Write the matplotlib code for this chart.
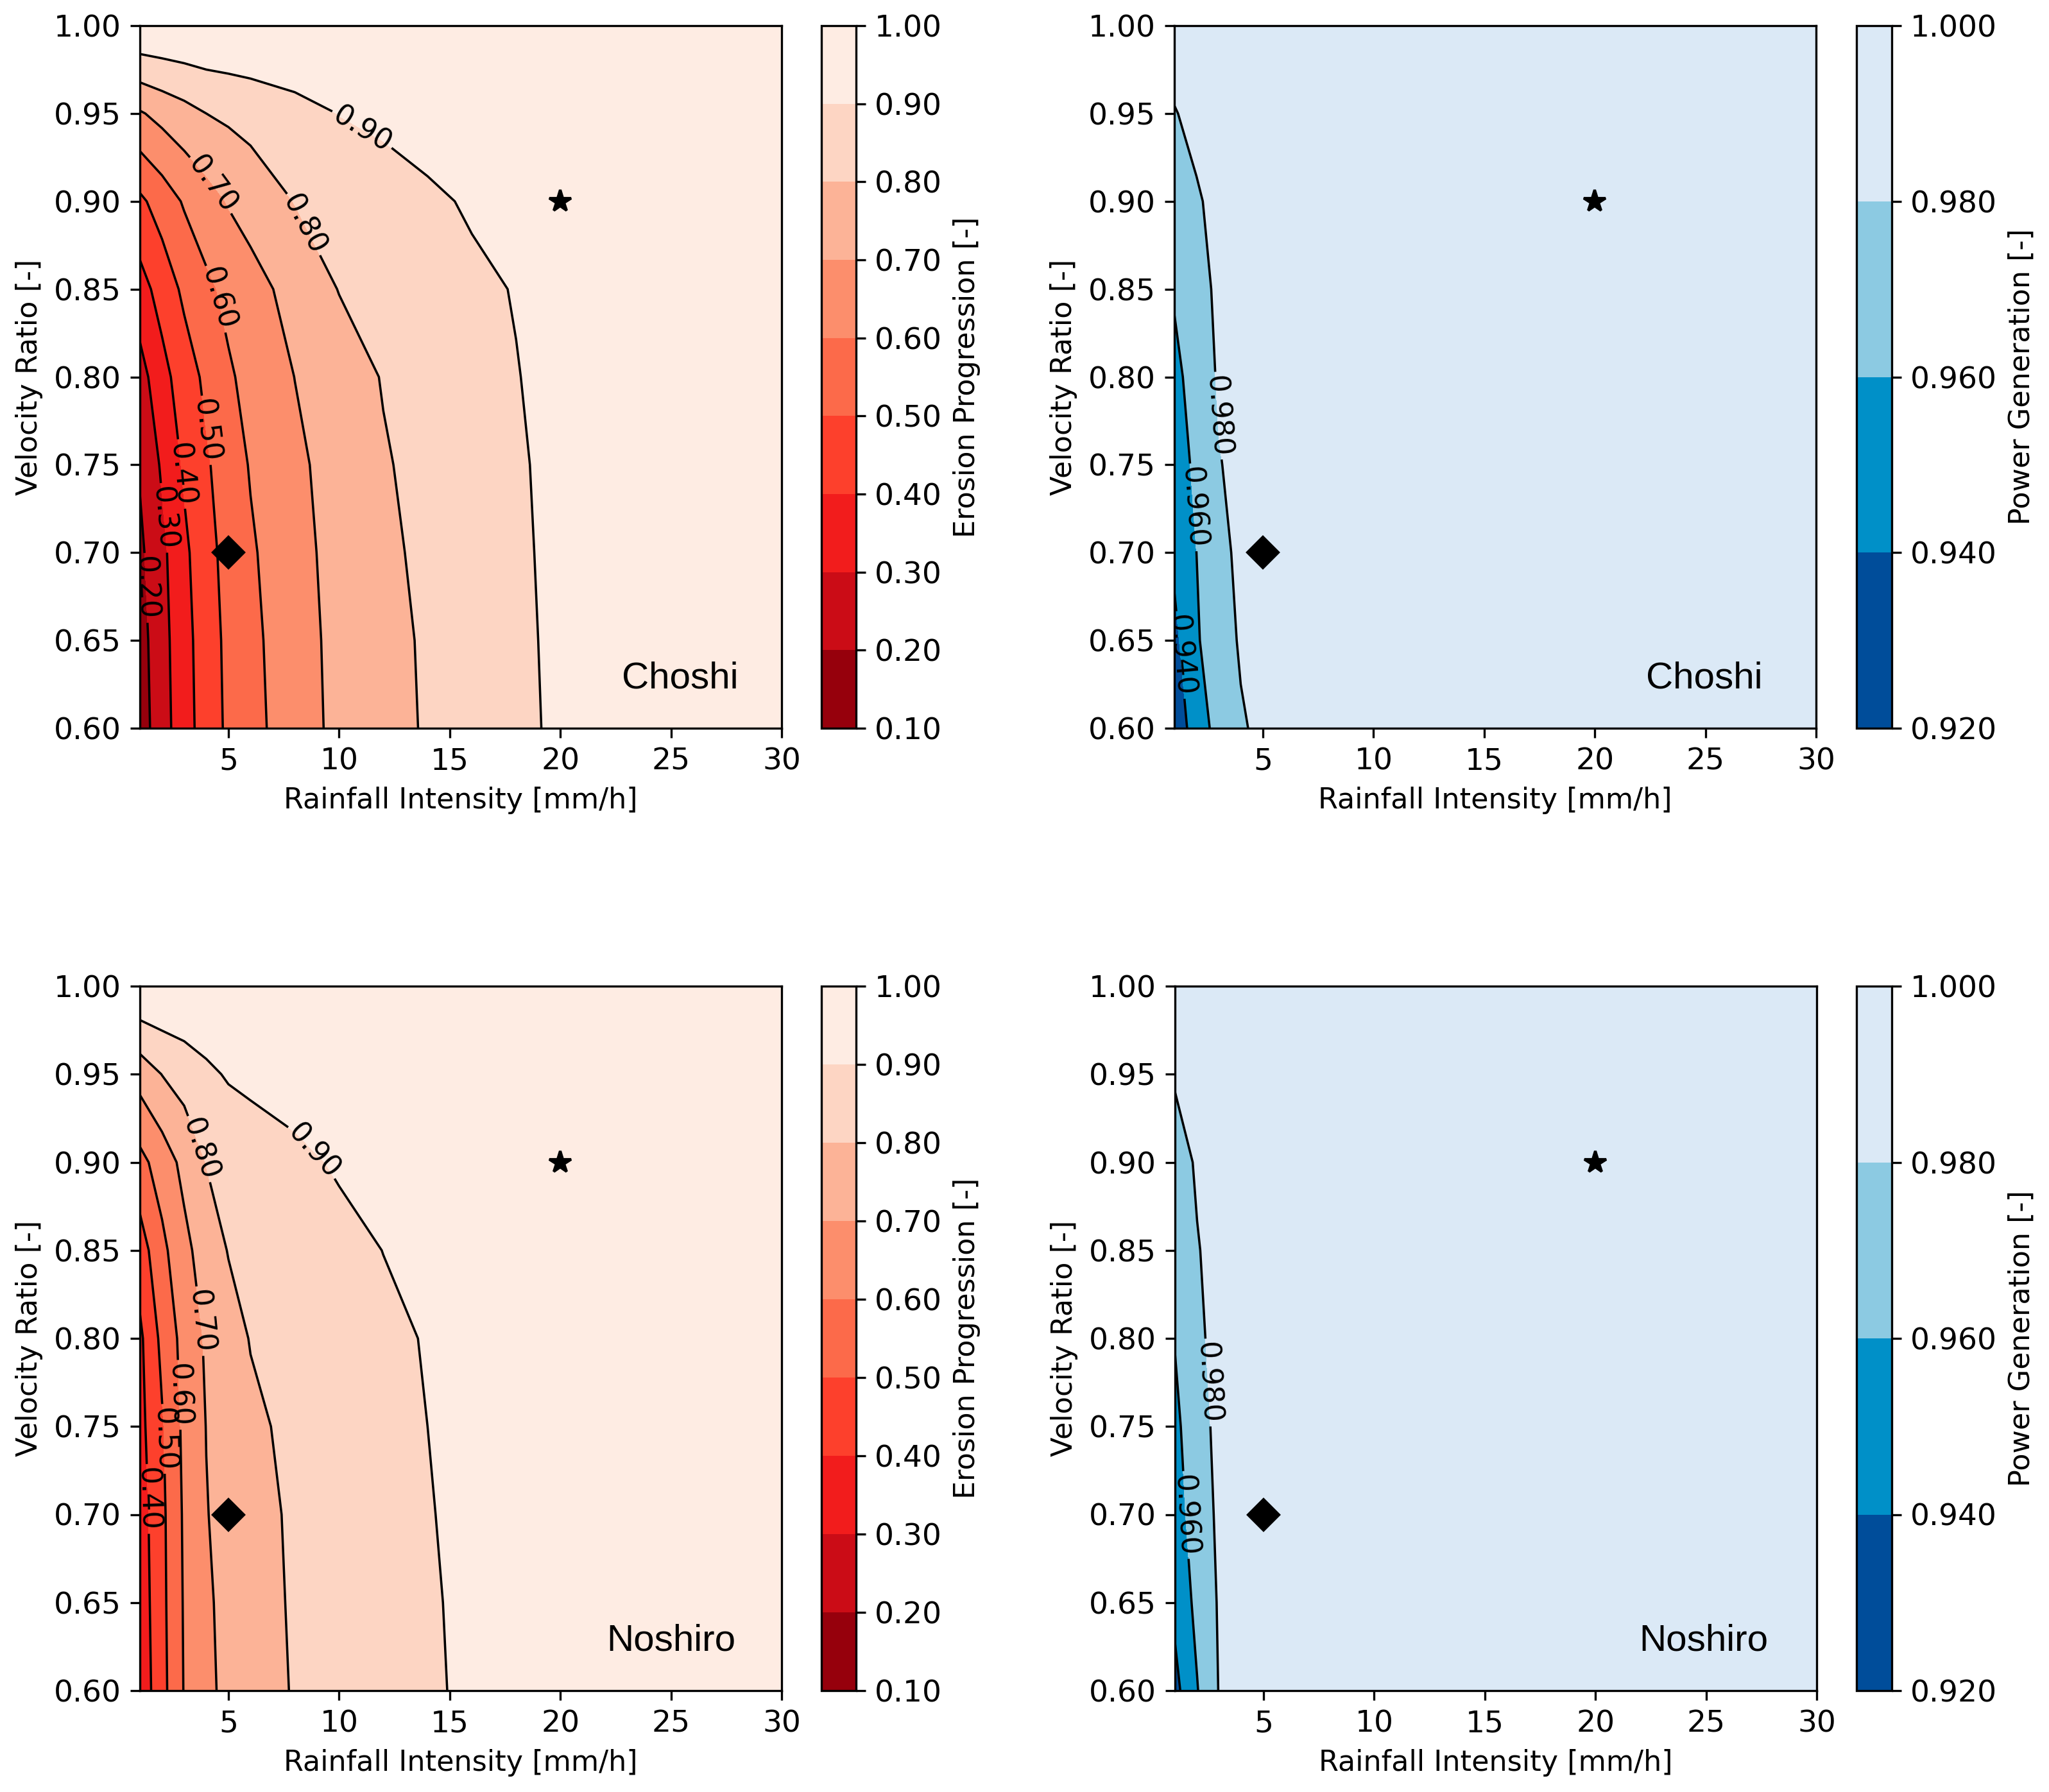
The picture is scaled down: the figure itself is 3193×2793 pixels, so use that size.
import numpy as np
import matplotlib
matplotlib.use("Agg")
import matplotlib.pyplot as plt

plt.rcParams['font.family'] = ['DejaVu Sans']
plt.rcParams['font.size'] = 10.7
plt.rcParams['xtick.labelsize'] = 11.3
plt.rcParams['ytick.labelsize'] = 11.3

# grid
rainfall = [1, 2, 3, 4, 5, 6, 8, 10, 12, 14, 16, 18, 20, 30]
velocity_ratio = [0.60, 0.65, 0.70, 0.75, 0.80, 0.85, 0.90, 0.95, 1.00]

# erosion progression, one row per velocity ratio
erosion_choshi = [
    [0.15, 0.259, 0.358, 0.447, 0.518, 0.567, 0.657, 0.723, 0.767, 0.809, 0.845, 0.880, 0.915, 0.99],
    [0.16, 0.266, 0.364, 0.453, 0.523, 0.574, 0.663, 0.725, 0.771, 0.812, 0.847, 0.882, 0.918, 0.99],
    [0.18, 0.277, 0.378, 0.467, 0.533, 0.587, 0.670, 0.731, 0.781, 0.820, 0.853, 0.886, 0.920, 0.99],
    [0.21, 0.313, 0.415, 0.488, 0.550, 0.607, 0.680, 0.739, 0.792, 0.827, 0.859, 0.890, 0.922, 0.99],
    [0.26, 0.366, 0.451, 0.521, 0.587, 0.629, 0.701, 0.755, 0.805, 0.835, 0.866, 0.897, 0.925, 0.99],
    [0.36, 0.440, 0.520, 0.579, 0.625, 0.662, 0.736, 0.803, 0.829, 0.856, 0.883, 0.904, 0.930, 0.99],
    [0.48, 0.545, 0.610, 0.660, 0.707, 0.741, 0.803, 0.830, 0.857, 0.884, 0.910, 0.930, 0.950, 0.99],
    [0.69, 0.731, 0.766, 0.800, 0.817, 0.834, 0.868, 0.902, 0.920, 0.940, 0.950, 0.960, 0.970, 0.99],
    [1.00, 1.00, 1.00, 1.00, 1.00, 1.00, 1.00, 1.00, 1.00, 1.00, 1.00, 1.00, 1.00, 1.00],
]
erosion_noshiro = [
    [0.33, 0.468, 0.605, 0.680, 0.723, 0.754, 0.807, 0.834, 0.861, 0.892, 0.910, 0.930, 0.945, 0.99],
    [0.34, 0.474, 0.609, 0.686, 0.727, 0.760, 0.811, 0.838, 0.865, 0.892, 0.915, 0.935, 0.950, 0.99],
    [0.35, 0.478, 0.614, 0.696, 0.733, 0.767, 0.814, 0.841, 0.869, 0.896, 0.918, 0.937, 0.952, 0.99],
    [0.37, 0.490, 0.623, 0.702, 0.742, 0.782, 0.821, 0.847, 0.874, 0.900, 0.920, 0.940, 0.955, 0.99],
    [0.38, 0.525, 0.635, 0.713, 0.764, 0.804, 0.830, 0.856, 0.882, 0.905, 0.925, 0.940, 0.955, 0.99],
    [0.45, 0.575, 0.672, 0.749, 0.804, 0.818, 0.846, 0.873, 0.901, 0.920, 0.935, 0.950, 0.960, 0.99],
    [0.57, 0.646, 0.728, 0.803, 0.822, 0.841, 0.879, 0.910, 0.930, 0.945, 0.955, 0.965, 0.970, 0.99],
    [0.74, 0.802, 0.840, 0.879, 0.910, 0.925, 0.940, 0.955, 0.965, 0.970, 0.975, 0.980, 0.985, 0.99],
    [1.00, 1.00, 1.00, 1.00, 1.00, 1.00, 1.00, 1.00, 1.00, 1.00, 1.00, 1.00, 1.00, 1.00],
]

# power generation
power_choshi = [
    [0.925, 0.951, 0.966, 0.978, 0.984, 0.988, 0.991, 0.993, 0.994, 0.995, 0.996, 0.997, 0.998, 0.999],
    [0.935, 0.958, 0.971, 0.982, 0.986, 0.989, 0.992, 0.993, 0.994, 0.995, 0.996, 0.997, 0.998, 0.999],
    [0.944, 0.960, 0.976, 0.983, 0.987, 0.990, 0.992, 0.994, 0.995, 0.996, 0.997, 0.997, 0.998, 0.999],
    [0.950, 0.964, 0.979, 0.985, 0.988, 0.990, 0.993, 0.994, 0.995, 0.996, 0.997, 0.998, 0.998, 0.999],
    [0.955, 0.968, 0.982, 0.986, 0.990, 0.991, 0.993, 0.995, 0.996, 0.996, 0.997, 0.998, 0.998, 0.999],
    [0.962, 0.974, 0.983, 0.987, 0.990, 0.992, 0.994, 0.995, 0.996, 0.997, 0.997, 0.998, 0.999, 0.999],
    [0.970, 0.978, 0.985, 0.989, 0.991, 0.993, 0.994, 0.995, 0.996, 0.997, 0.998, 0.998, 0.999, 0.999],
    [0.979, 0.985, 0.989, 0.992, 0.993, 0.994, 0.995, 0.996, 0.997, 0.998, 0.998, 0.999, 0.999, 1.000],
    [0.990, 0.992, 0.994, 0.995, 0.996, 0.996, 0.997, 0.998, 0.998, 0.999, 0.999, 0.999, 1.000, 1.000],
]
power_noshiro = [
    [0.934, 0.959, 0.981, 0.986, 0.989, 0.991, 0.993, 0.994, 0.995, 0.996, 0.997, 0.998, 0.998, 0.999],
    [0.945, 0.965, 0.982, 0.987, 0.990, 0.991, 0.993, 0.994, 0.995, 0.996, 0.997, 0.998, 0.998, 0.999],
    [0.950, 0.971, 0.983, 0.988, 0.990, 0.992, 0.993, 0.995, 0.996, 0.996, 0.997, 0.998, 0.998, 0.999],
    [0.955, 0.974, 0.984, 0.988, 0.991, 0.992, 0.994, 0.995, 0.996, 0.997, 0.997, 0.998, 0.999, 0.999],
    [0.961, 0.977, 0.985, 0.989, 0.991, 0.993, 0.994, 0.995, 0.996, 0.997, 0.998, 0.998, 0.999, 0.999],
    [0.966, 0.979, 0.986, 0.990, 0.992, 0.993, 0.994, 0.995, 0.996, 0.997, 0.998, 0.998, 0.999, 0.999],
    [0.972, 0.982, 0.987, 0.990, 0.992, 0.993, 0.995, 0.996, 0.997, 0.997, 0.998, 0.999, 0.999, 1.000],
    [0.982, 0.987, 0.990, 0.992, 0.993, 0.994, 0.995, 0.996, 0.997, 0.998, 0.998, 0.999, 0.999, 1.000],
    [0.990, 0.992, 0.994, 0.995, 0.996, 0.996, 0.997, 0.998, 0.998, 0.999, 0.999, 0.999, 1.000, 1.000],
]

erosion_levels = [0.1, 0.2, 0.3, 0.4, 0.5, 0.6, 0.7, 0.8, 0.9, 1.0]
power_levels = [0.92, 0.94, 0.96, 0.98, 1.00]

# marked operating points
star_point = [20, 0.90]
diamond_point = [5, 0.70]

erosion_colors = ['#96000c', '#cb0c16', '#f21c1c', '#fd402c', '#fc6a4a',
                  '#fc8e6c', '#fcb397', '#fdd5c3', '#feece3']
power_colors = ['#004d9a', '#0090c8', '#8ccae2', '#dbe9f6']

W, H = 3193, 2793
fig = plt.figure(figsize=(W / 300, H / 300), dpi=300)

def frac(x0, y0, x1, y1):
    # pixel box -> figure fraction
    return [x0 / W, 1 - y1 / H, (x1 - x0) / W, (y1 - y0) / H]

X, Y = np.meshgrid(rainfall, velocity_ratio)

panels = [
    # data, levels, colors, fmt, cbar label, site, ax box, cax box, label spots, site x
    (erosion_choshi, erosion_levels, erosion_colors, '%.2f', 'Erosion Progression [-]', 'Choshi',
     frac(218, 40, 1218, 1135), frac(1280, 40, 1334, 1135),
     [(11.0, 0.94), (8.9, 0.89), (4.3, 0.91), (4.65, 0.845), (4.25, 0.77),
      (3.1, 0.745), (2.3, 0.72), (1.45, 0.68)], 0.933),
    (power_choshi, power_levels, power_colors, '%.3f', 'Power Generation [-]', 'Choshi',
     frac(1830, 40, 2830, 1135), frac(2893, 40, 2948, 1135),
     [(3.1, 0.778), (2.15, 0.726), (1.55, 0.642)], 0.917),
    (erosion_noshiro, erosion_levels, erosion_colors, '%.2f', 'Erosion Progression [-]', 'Noshiro',
     frac(218, 1537, 1218, 2635), frac(1280, 1537, 1334, 2635),
     [(8.9, 0.907), (3.8, 0.908), (3.87, 0.81), (2.9, 0.768), (2.3, 0.743),
      (1.7, 0.709)], 0.928),
    (power_noshiro, power_levels, power_colors, '%.3f', 'Power Generation [-]', 'Noshiro',
     frac(1831, 1537, 2831, 2635), frac(2893, 1537, 2948, 2635),
     [(2.6, 0.775), (1.8, 0.70)], 0.924),
]

for z, levels, colors, fmt, clabel_txt, site, box, cbox, spots, site_x in panels:
    ax = fig.add_axes(box)
    cax = fig.add_axes(cbox)
    z = np.array(z)
    cf = ax.contourf(X, Y, z, levels=levels, colors=colors)
    cs = ax.contour(X, Y, z, levels=levels[1:-1], colors='k', linewidths=0.85)
    ax.clabel(cs, fmt=fmt, fontsize=10.7, inline=True, manual=spots)

    ax.plot(star_point[0], star_point[1], marker='*', color='k', ms=8.5, ls='none')
    ax.plot(diamond_point[0], diamond_point[1], marker='D', color='k', ms=8, ls='none')

    ax.set_xlim(1, 30)
    ax.set_ylim(0.6, 1.0)
    ax.set_xticks([5, 10, 15, 20, 25, 30])
    ax.set_yticks(np.arange(0.60, 1.001, 0.05))
    ax.yaxis.set_major_formatter(matplotlib.ticker.FormatStrFormatter('%.2f'))
    ax.set_xlabel('Rainfall Intensity [mm/h]')
    ax.set_ylabel('Velocity Ratio [-]')
    ax.text(site_x, 0.057, site, transform=ax.transAxes, ha='right', va='baseline',
            fontsize=14, family=['Liberation Sans', 'DejaVu Sans'])

    cb = fig.colorbar(cf, cax=cax, ticks=levels, format=fmt)
    cb.ax.tick_params(labelsize=11.3)
    cb.set_label(clabel_txt)

fig.savefig('out.png', dpi=300)
